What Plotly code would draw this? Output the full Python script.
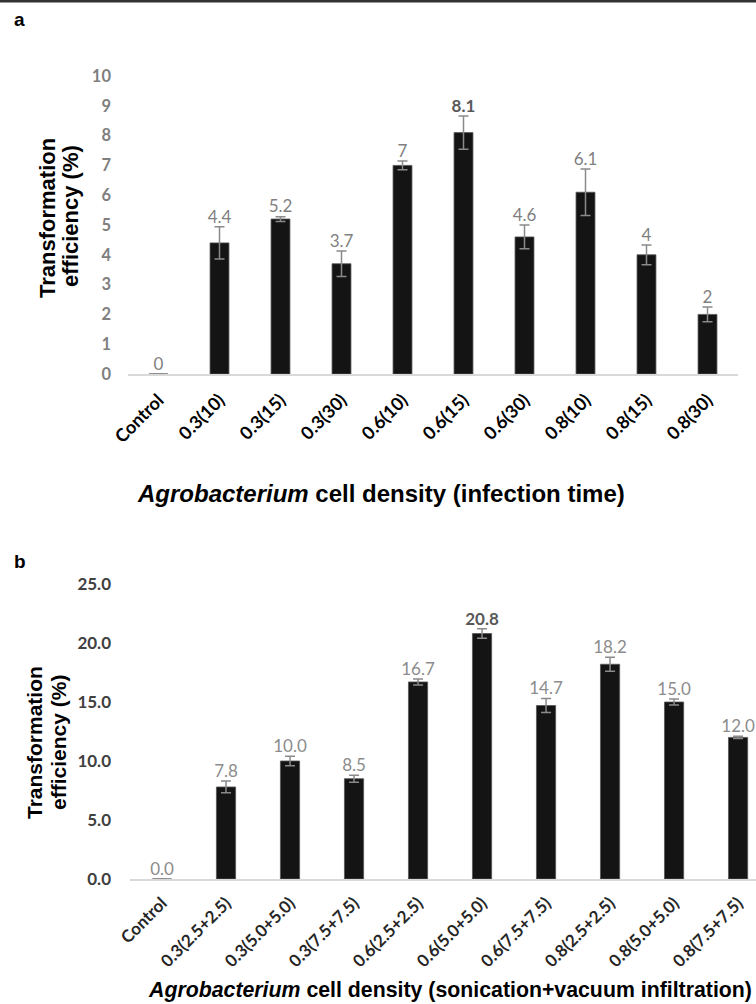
import plotly.graph_objects as go

W, H = 756, 1004

cats_a = ["Control", "0.3(10)", "0.3(15)", "0.3(30)", "0.6(10)", "0.6(15)",
          "0.6(30)", "0.8(10)", "0.8(15)", "0.8(30)"]
vals_a = [0, 4.4, 5.2, 3.7, 7.0, 8.1, 4.6, 6.1, 4.0, 2.0]
errs_a = [0, 0.54, 0.08, 0.43, 0.15, 0.56, 0.4, 0.78, 0.33, 0.25]
labels_a = ["0", "4.4", "5.2", "3.7", "7", "8.1", "4.6", "6.1", "4", "2"]

cats_b = ["Control", "0.3(2.5+2.5)", "0.3(5.0+5.0)", "0.3(7.5+7.5)", "0.6(2.5+2.5)",
          "0.6(5.0+5.0)", "0.6(7.5+7.5)", "0.8(2.5+2.5)", "0.8(5.0+5.0)", "0.8(7.5+7.5)"]
vals_b = [0, 7.8, 10.0, 8.5, 16.7, 20.8, 14.7, 18.2, 15.0, 12.0]
errs_b = [0, 0.5, 0.4, 0.3, 0.25, 0.4, 0.6, 0.6, 0.25, 0.1]
labels_b = ["0.0", "7.8", "10.0", "8.5", "16.7", "20.8", "14.7", "18.2", "15.0", "12.0"]

ticks_a = list(range(0, 11))
ticks_b = [0, 5, 10, 15, 20, 25]
ticktext_b = ["0.0", "5.0", "10.0", "15.0", "20.0", "25.0"]

best_a = vals_a.index(max(vals_a))
best_b = vals_b.index(max(vals_b))

def px_x(p):
    return p / W

def px_y(p):
    return 1 - p / H

TICKFONT = "Lato, 'Open Sans', sans-serif"
TITLEFONT = "'Liberation Sans', Arial, sans-serif"

fig = go.Figure()

# Panel a
fig.add_trace(go.Bar(
    x=list(range(len(cats_a))), y=vals_a, width=0.31,
    marker=dict(color="#141414", line=dict(width=0.8, color="#555555")),
    error_y=dict(type="data", array=errs_a, color="#8a8a8a", thickness=1.5, width=5),
    xaxis="x", yaxis="y", hoverinfo="skip"))
fig.add_trace(go.Scatter(
    x=list(range(len(cats_a))), y=[v + e for v, e in zip(vals_a, errs_a)],
    mode="text",
    text=[("<b>%s</b>" % t) if i == best_a else t for i, t in enumerate(labels_a)],
    textposition="top center",
    textfont=dict(family=TICKFONT, size=17,
                  color=["#595959" if i == best_a else "#7f7f7f" for i in range(len(cats_a))]),
    cliponaxis=False, xaxis="x", yaxis="y", hoverinfo="skip"))

# Panel b
fig.add_trace(go.Bar(
    x=list(range(len(cats_b))), y=vals_b, width=0.3,
    marker=dict(color="#141414", line=dict(width=0.8, color="#555555")),
    error_y=dict(type="data", array=errs_b, color="#8a8a8a", thickness=1.5, width=5),
    xaxis="x2", yaxis="y2", hoverinfo="skip"))
fig.add_trace(go.Scatter(
    x=list(range(len(cats_b))), y=[v + e for v, e in zip(vals_b, errs_b)],
    mode="text",
    text=[("<b>%s</b>" % t) if i == best_b else t for i, t in enumerate(labels_b)],
    textposition="top center",
    textfont=dict(family=TICKFONT, size=17,
                  color=["#595959" if i == best_b else "#8c8c8c" for i in range(len(cats_b))]),
    cliponaxis=False, xaxis="x2", yaxis="y2", hoverinfo="skip"))

fig.update_layout(
    width=W, height=H,
    margin=dict(l=0, r=0, t=0, b=0, autoexpand=False),
    paper_bgcolor="white", plot_bgcolor="white",
    showlegend=False, hovermode=False,
    xaxis=dict(domain=[px_x(128), px_x(738)], range=[-0.5, 9.5], automargin=False,
               tickmode="array", tickvals=list(range(len(cats_a))), ticktext=cats_a,
               tickangle=-45,
               tickfont=dict(family=TICKFONT, size=18, color="#000000", weight="bold"),
               showline=True, linecolor="#d9d9d9", linewidth=1.5, showgrid=False,
               zeroline=False, ticks="", ticklabelstandoff=7, anchor="y"),
    yaxis=dict(domain=[px_y(374), px_y(76)], range=[0, 10], automargin=False,
               tickmode="array", tickvals=ticks_a,
               tickfont=dict(family=TICKFONT, size=16.5, color="#7f7f7f", weight="bold"),
               showline=False, showgrid=False, zeroline=False, ticks="",
               ticklabelstandoff=16, anchor="x"),
    xaxis2=dict(domain=[px_x(130), 1.0], range=[-0.5, 9.28], automargin=False,
                tickmode="array", tickvals=list(range(len(cats_b))), ticktext=cats_b,
                tickangle=-45,
                tickfont=dict(family=TICKFONT, size=17, color="#262626", weight="bold"),
                showline=True, linecolor="#d9d9d9", linewidth=1.5, showgrid=False,
                zeroline=False, ticks="", ticklabelstandoff=6, anchor="y2"),
    yaxis2=dict(domain=[px_y(879), px_y(584)], range=[0, 25], automargin=False,
                tickmode="array", tickvals=ticks_b, ticktext=ticktext_b,
                tickfont=dict(family=TICKFONT, size=17, color="#404040", weight="bold"),
                showline=False, showgrid=False, zeroline=False, ticks="",
                ticklabelstandoff=18, anchor="x2"),
)

annotations = [
    dict(text="<b>a</b>", x=px_x(12), y=px_y(20), xanchor="left", yanchor="middle",
         font=dict(family=TITLEFONT, size=19, color="#000")),
    dict(text="<b>b</b>", x=px_x(12), y=px_y(561), xanchor="left", yanchor="middle",
         font=dict(family=TITLEFONT, size=19, color="#000")),
    dict(text="<b>Transformation</b>", x=px_x(47), y=px_y(218),
         xanchor="center", yanchor="middle", textangle=-90,
         font=dict(family=TITLEFONT, size=22, color="#000")),
    dict(text="<b>efficiency (%)</b>", x=px_x(70), y=px_y(216),
         xanchor="center", yanchor="middle", textangle=-90,
         font=dict(family=TITLEFONT, size=22, color="#000")),
    dict(text="<b>Transformation</b>", x=px_x(34), y=px_y(743),
         xanchor="center", yanchor="middle", textangle=-90,
         font=dict(family=TITLEFONT, size=21, color="#000")),
    dict(text="<b>efficiency (%)</b>", x=px_x(58), y=px_y(743),
         xanchor="center", yanchor="middle", textangle=-90,
         font=dict(family=TITLEFONT, size=21, color="#000")),
    dict(text="<b><i>Agrobacterium</i> cell density (infection time)</b>",
         x=px_x(381), y=px_y(493), xanchor="center", yanchor="middle",
         font=dict(family=TITLEFONT, size=24, color="#000")),
    dict(text="<b><i>Agrobacterium</i> cell density (sonication+vacuum infiltration)</b>",
         x=px_x(450), y=px_y(990), xanchor="center", yanchor="middle",
         font=dict(family=TITLEFONT, size=21.3, color="#000")),
]
for a in annotations:
    a.update(xref="paper", yref="paper", showarrow=False)
fig.update_layout(annotations=annotations)

fig.add_shape(type="line", xref="paper", yref="paper", x0=0, x1=1, y0=px_y(1), y1=px_y(1),
              line=dict(color="#333333", width=3))

fig.write_html(
    "out.html",
    config={"displayModeBar": False, "staticPlot": True},
    post_script="document.body.style.margin='0px';document.body.style.overflow='hidden';",
)
